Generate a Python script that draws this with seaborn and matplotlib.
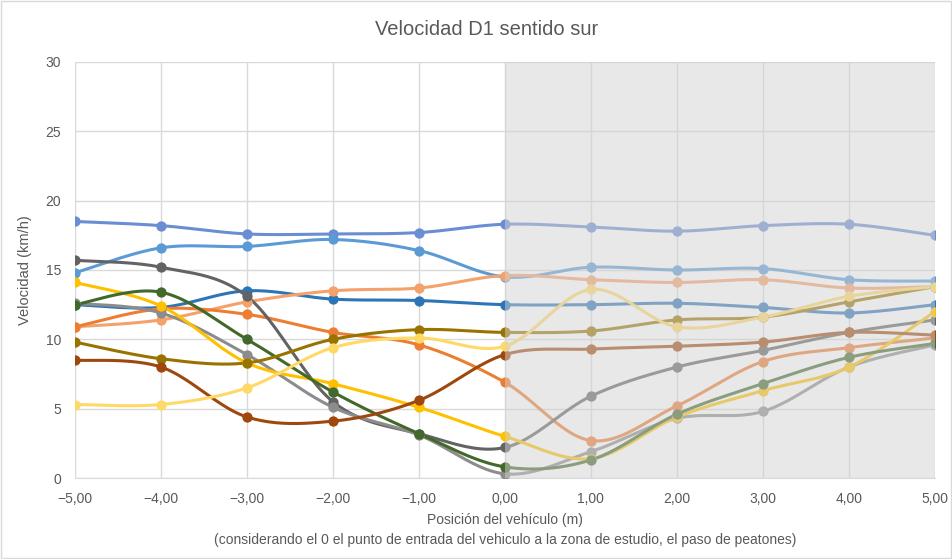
import numpy as np
import pandas as pd
import matplotlib
matplotlib.use("Agg")
import matplotlib.pyplot as plt
import seaborn as sns

posicion = [-5, -4, -3, -2, -1, 0, 1, 2, 3, 4, 5]
xticklabels = ["−5,00", "−4,00", "−3,00", "−2,00", "−1,00", "0,00", "1,00", "2,00", "3,00", "4,00", "5,00"]

azul_alto = [18.5, 18.2, 17.6, 17.6, 17.7, 18.3, 18.1, 17.8, 18.2, 18.3, 17.5]
azul_claro = [14.8, 16.6, 16.7, 17.2, 16.4, 14.5, 15.2, 15.0, 15.1, 14.3, 14.2]
azul_medio = [12.5, 12.3, 13.5, 12.9, 12.8, 12.5, 12.5, 12.6, 12.3, 11.9, 12.5]
naranja_claro = [10.9, 11.4, 12.7, 13.5, 13.7, 14.6, 14.3, 14.1, 14.3, 13.7, 13.8]
naranja = [10.9, 12.2, 11.8, 10.5, 9.6, 6.9, 2.7, 5.2, 8.4, 9.4, 10.1]
gris_oscuro = [15.7, 15.2, 13.1, 5.5, 3.2, 2.2, 5.9, 8.0, 9.2, 10.5, 11.4]
gris = [12.6, 11.9, 8.9, 5.1, 3.1, 0.3, 1.9, 4.3, 4.8, 8.0, 9.6]
dorado = [14.1, 12.4, 8.3, 6.8, 5.1, 3.0, 1.4, 4.4, 6.3, 8.0, 12.0]
verde = [12.5, 13.4, 10.0, 6.2, 3.2, 0.8, 1.3, 4.6, 6.8, 8.7, 9.7]
oliva = [9.8, 8.6, 8.3, 10.0, 10.7, 10.5, 10.6, 11.4, 11.6, 12.7, 13.8]
marron = [8.5, 8.0, 4.4, 4.1, 5.6, 8.9, 9.3, 9.5, 9.8, 10.5, 10.3]
amarillo = [5.3, 5.3, 6.5, 9.4, 10.1, 9.5, 13.6, 10.9, 11.6, 13.1, 13.8]

series = [
    ("s1", azul_alto, "#6A8DD3"),
    ("s2", azul_claro, "#5B9BD5"),
    ("s3", azul_medio, "#2E75B6"),
    ("s4", naranja_claro, "#F4A26C"),
    ("s5", naranja, "#ED7D31"),
    ("s6", gris_oscuro, "#636363"),
    ("s7", gris, "#8C8C8C"),
    ("s8", dorado, "#FFC000"),
    ("s9", verde, "#43682B"),
    ("s10", oliva, "#997300"),
    ("s11", marron, "#9E480E"),
    ("s12", amarillo, "#FFD966"),
]


def suavizar(x, y, n=25):
    # curva tipo Excel (Bezier con puntos de control a 1/6)
    p = np.column_stack([x, y]).astype(float)
    k = len(p)
    xs, ys = [], []
    t = np.linspace(0, 1, n)[:, None]
    for i in range(k - 1):
        p0, p1, p2, p3 = p[max(i - 1, 0)], p[i], p[i + 1], p[min(i + 2, k - 1)]
        c1 = p1 + (p2 - p0) / 6
        c2 = p2 - (p3 - p1) / 6
        b = (1 - t) ** 3 * p1 + 3 * (1 - t) ** 2 * t * c1 + 3 * (1 - t) * t ** 2 * c2 + t ** 3 * p2
        xs.extend(b[:, 0])
        ys.extend(b[:, 1])
    return xs, ys


sns.set_style("white")
plt.rcParams['font.family'] = ['Liberation Sans', 'DejaVu Sans']

fig = plt.figure(figsize=(9.53, 5.59), dpi=100)
ax = fig.add_axes([0.0787, 0.1449, 0.9023, 0.7442])

for nombre, vals, color in series:
    cx, cy = suavizar(posicion, vals)
    curva = pd.DataFrame({"x": cx, "y": cy})
    sns.lineplot(data=curva, x="x", y="y", sort=False, color=color, lw=2.2, ax=ax, zorder=3)
    puntos = pd.DataFrame({"x": posicion, "y": vals})
    sns.scatterplot(data=puntos, x="x", y="y", color=color, s=55, edgecolor=color, linewidth=0, ax=ax, zorder=4)

ax.axvspan(0, 5, color="#D2D2D2", alpha=0.5, lw=0, zorder=5)

ax.set_xlim(-5, 5)
ax.set_ylim(0, 30)
ax.set_xticks(posicion)
ax.set_xticklabels(xticklabels)
ax.set_yticks(range(0, 31, 5))
ax.grid(True, color="#D9D9D9", lw=1)
ax.set_axisbelow(True)
for s in ["top", "right", "left"]:
    ax.spines[s].set_visible(False)
ax.spines["bottom"].set_color("#D9D9D9")
ax.tick_params(axis="both", colors="#595959", labelsize=10, length=0)
ax.tick_params(axis="x", pad=10)
ax.tick_params(axis="y", pad=10)

ax.set_xlabel("Posición del vehículo (m)\n(considerando el 0 el punto de entrada del vehiculo a la zona de estudio, el paso de peatones)",
              color="#595959", fontsize=10, labelpad=5, linespacing=1.6)
ax.set_ylabel("Velocidad (km/h)", color="#595959", fontsize=10.5, labelpad=10)
fig.suptitle("Velocidad D1 sentido sur", color="#595959", fontsize=14.5, x=0.511, y=0.965)

fig.patches.append(plt.Rectangle((0.001, 0.001), 0.997, 0.997, transform=fig.transFigure,
                                 fill=False, edgecolor="#D9D9D9", lw=1))

fig.savefig("out.png", dpi=100)
